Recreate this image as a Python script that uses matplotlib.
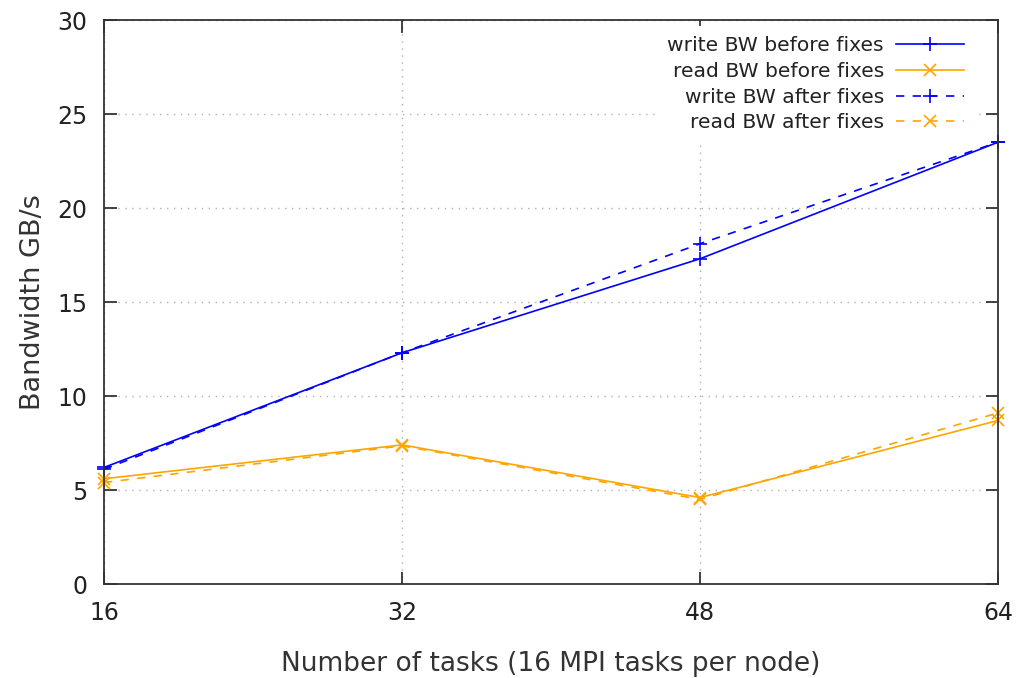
import matplotlib
matplotlib.use("Agg")
import matplotlib.pyplot as plt

# number of tasks
tasks = [16, 32, 48, 64]

# bandwidth in GB/s
write_before = [6.2, 12.3, 17.3, 23.5]
read_before = [5.6, 7.4, 4.6, 8.7]
write_after = [6.1, 12.3, 18.1, 23.5]
read_after = [5.4, 7.35, 4.5, 9.1]

y_ticks = [0, 5, 10, 15, 20, 25, 30]

BLUE = "#0000ff"
ORANGE = "#ffa500"

plt.rcParams['font.family'] = ['DejaVu Sans']

fig = plt.figure(figsize=(10.21, 6.78), dpi=100)
ax = fig.add_axes([0.1019, 0.1386, 0.8756, 0.8319])

ax.plot(tasks, write_before, color=BLUE, lw=1.2, marker='+', ms=10, mew=1.2,
        label='write BW before fixes', clip_on=False)
ax.plot(tasks, read_before, color=ORANGE, lw=1.2, marker='x', ms=8, mew=1.2,
        label='read BW before fixes', clip_on=False)
ax.plot(tasks, write_after, color=BLUE, lw=1.2, marker='+', ms=10, mew=1.2,
        dashes=(5, 5), label='write BW after fixes', clip_on=False)
ax.plot(tasks, read_after, color=ORANGE, lw=1.2, marker='x', ms=8, mew=1.2,
        dashes=(5, 5), label='read BW after fixes', clip_on=False)

ax.set_xlim(16, 64)
ax.set_ylim(0, 30)
ax.set_xticks(tasks)
ax.set_yticks(y_ticks)
ax.grid(True, color='#b0b0b0', linestyle=(0, (1, 4)), lw=1.0)
ax.set_axisbelow(True)

ax.tick_params(direction='in', top=True, right=True, length=9, width=1.2,
               labelsize=17, pad=12, colors='#222222')
for s in ax.spines.values():
    s.set_linewidth(1.3)
    s.set_color('#333333')

ax.set_xlabel('Number of tasks (16 MPI tasks per node)', fontsize=19,
              color='#333333', labelpad=19)
ax.set_ylabel('Bandwidth GB/s', fontsize=19.5, color='#333333', labelpad=8)

leg = ax.legend(loc='upper right', markerfirst=False, frameon=True,
                fontsize=14.6, handlelength=3.35, handletextpad=0.6,
                labelspacing=0.33, borderaxespad=0.3, borderpad=0.5,
                bbox_to_anchor=(0.98, 1.0))
leg.get_frame().set_edgecolor('none')
leg.get_frame().set_facecolor('white')
leg.get_frame().set_alpha(1.0)
for t in leg.get_texts():
    t.set_color('#222222')

fig.savefig('out.png', dpi=100)
